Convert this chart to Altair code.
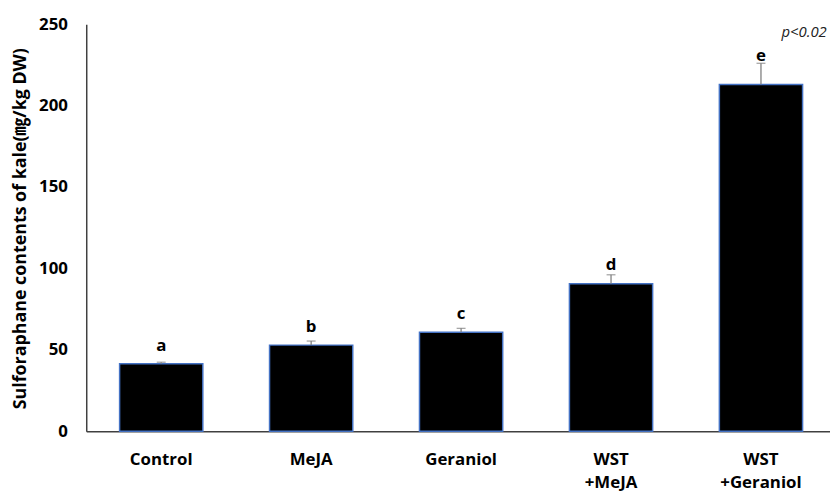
import altair as alt
import pandas as pd

categories = ["Control", "MeJA", "Geraniol", "WST +MeJA", "WST +Geraniol"]
means = [41.4, 52.9, 60.8, 90.6, 213.0]
errors = [1.0, 2.5, 2.4, 5.5, 13.0]
letters = ["a", "b", "c", "d", "e"]
letter_y = [49.3, 60.8, 68.7, 99.0, 227.5]
y_ticks = [0, 50, 100, 150, 200, 250]

df = pd.DataFrame({
    "cat": categories,
    "mean": means,
    "top": [m + e for m, e in zip(means, errors)],
    "letter": letters,
    "ly": letter_y,
})

FONT = "Open Sans"
TFONT = "'Open Sans', 'Noto Sans CJK KR'"

x = alt.X(
    "cat:N",
    sort=categories,
    scale=alt.Scale(range=[0, 757], paddingInner=0.445, paddingOuter=0.2225),
    axis=alt.Axis(
        title=None, labelAngle=0, ticks=False, grid=False,
        domainColor="#404040", domainWidth=1.5,
        labelFont=FONT, labelFontSize=17, labelFontWeight="bold", labelColor="#000000",
        labelPadding=21, labelLineHeight=23,
        labelExpr="split(datum.label, ' ')",
    ),
)
y_scale = alt.Scale(domain=[0, 250], nice=False)

bars = alt.Chart(df).mark_bar(color="#000000", stroke="#4472C4", strokeWidth=1.5).encode(
    x=x,
    y=alt.Y(
        "mean:Q", scale=y_scale,
        axis=alt.Axis(
            values=y_ticks, ticks=False, grid=False,
            domainColor="#404040", domainWidth=1.5,
            labelFont=FONT, labelFontSize=17, labelFontWeight="bold", labelColor="#000000",
            labelPadding=19,
            title="Sulforaphane contents of kale(㎎/kg DW)",
            titleFont=TFONT, titleFontSize=18, titleFontWeight="bold", titleColor="#000000",
            titleAngle=270, titleAlign="center", titleBaseline="middle",
            titleX=-66, titleY=206,
        ),
    ),
)

err = alt.Chart(df).mark_rule(color="#808080", strokeWidth=1.3).encode(
    x=alt.X("cat:N", sort=categories),
    y=alt.Y("mean:Q", scale=y_scale),
    y2="top:Q",
)
caps = alt.Chart(df).mark_tick(color="#808080", thickness=1.3, size=9, orient="horizontal").encode(
    x=alt.X("cat:N", sort=categories),
    y=alt.Y("top:Q", scale=y_scale),
)
labels = alt.Chart(df).mark_text(
    font=FONT, fontSize=17, fontWeight="bold", color="#000000", baseline="alphabetic"
).encode(
    x=alt.X("cat:N", sort=categories),
    y=alt.Y("ly:Q", scale=y_scale),
    text="letter:N",
)
ptext = alt.Chart(pd.DataFrame({"t": ["p<0.02"]})).mark_text(
    font=FONT, fontSize=15, fontStyle="italic", color="#222222", align="left", baseline="alphabetic"
).encode(
    x=alt.value(702), y=alt.value(13), text="t:N"
)

chart = alt.layer(bars, err, caps, labels, ptext).properties(
    width=751, height=411,
    autosize=alt.AutoSizeParams(type="none"),
    padding={"left": 79, "top": 14, "right": 0, "bottom": 62},
).configure_view(stroke=None)

chart.save("out.html", embed_options={"renderer": "svg", "actions": False})
